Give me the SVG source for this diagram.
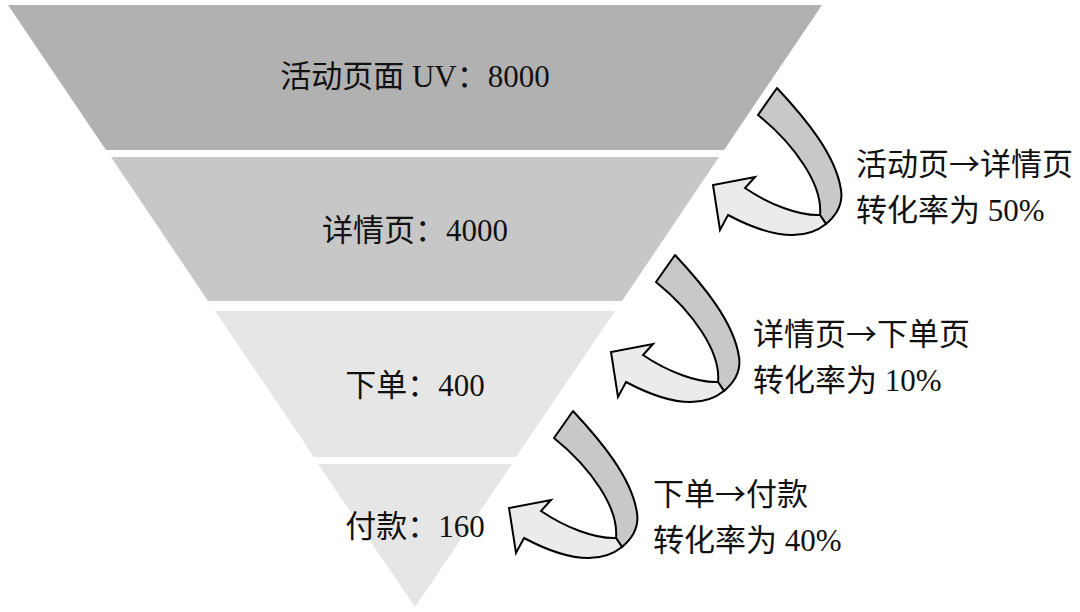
<svg xmlns="http://www.w3.org/2000/svg" xmlns:xlink="http://www.w3.org/1999/xlink" width="1080" height="612" viewBox="0 0 1080 612">
  <style>
    .lbl { font-family: "Liberation Serif", "Noto Sans CJK SC", serif; font-size: 31px; fill: #111111; }
    .arr { font-family: "Noto Sans CJK SC", sans-serif; }
    .mid { text-anchor: middle; }
    .dark { fill: #c8c8c8; stroke: #000000; stroke-width: 2; stroke-linejoin: round; }
    .light { fill: #ebebeb; stroke: #000000; stroke-width: 2; stroke-linejoin: miter; }
  </style>
  <defs>
    <g id="curl">
      <path class="dark" d="M 758,115 L 777,88 C 805,118 836,155 841,190 C 843,203 838,214 826,224 L 820,215 C 823,185 795,145 758,115 Z"/>
      <path class="light" d="M 820,215 C 800,216 770,205 745,188 L 755,177 L 713,185 L 720,230 L 728,215 C 760,232 800,245 826,224 Z"/>
    </g>
  </defs>
  <rect width="1080" height="612" fill="#ffffff"/>
  <g id="stage-uv">
    <polygon points="8,5 822,5 724,150 106,150" fill="#b2b1b2"/>
    <text class="lbl mid" x="415" y="87">活动页面 UV：8000</text>
  </g>
  <g id="stage-detail">
    <polygon points="111,157 719,157 622,301 208,301" fill="#c7c7c7"/>
    <text class="lbl mid" x="415" y="241">详情页：4000</text>
  </g>
  <g id="stage-order">
    <polygon points="215,311 615,311 516,457 314,457" fill="#e6e6e6"/>
    <text class="lbl mid" x="415" y="396">下单：400</text>
  </g>
  <g id="stage-pay">
    <polygon points="318,464 512,464 415,607" fill="#e6e6e6"/>
    <text class="lbl mid" x="415" y="537">付款：160</text>
  </g>
  <g id="connectors">
    <use xlink:href="#curl" href="#curl"/>
    <use xlink:href="#curl" href="#curl" transform="translate(-102,167)"/>
    <use xlink:href="#curl" href="#curl" transform="translate(-204,323)"/>
  </g>
  <g id="connector-labels">
    <text class="lbl" x="856" y="175">活动页<tspan class="arr">→</tspan>详情页</text>
    <text class="lbl" x="856" y="221">转化率为 50%</text>
    <text class="lbl" x="753" y="345">详情页<tspan class="arr">→</tspan>下单页</text>
    <text class="lbl" x="753" y="391">转化率为 10%</text>
    <text class="lbl" x="653" y="505">下单<tspan class="arr">→</tspan>付款</text>
    <text class="lbl" x="653" y="551">转化率为 40%</text>
  </g>
</svg>
